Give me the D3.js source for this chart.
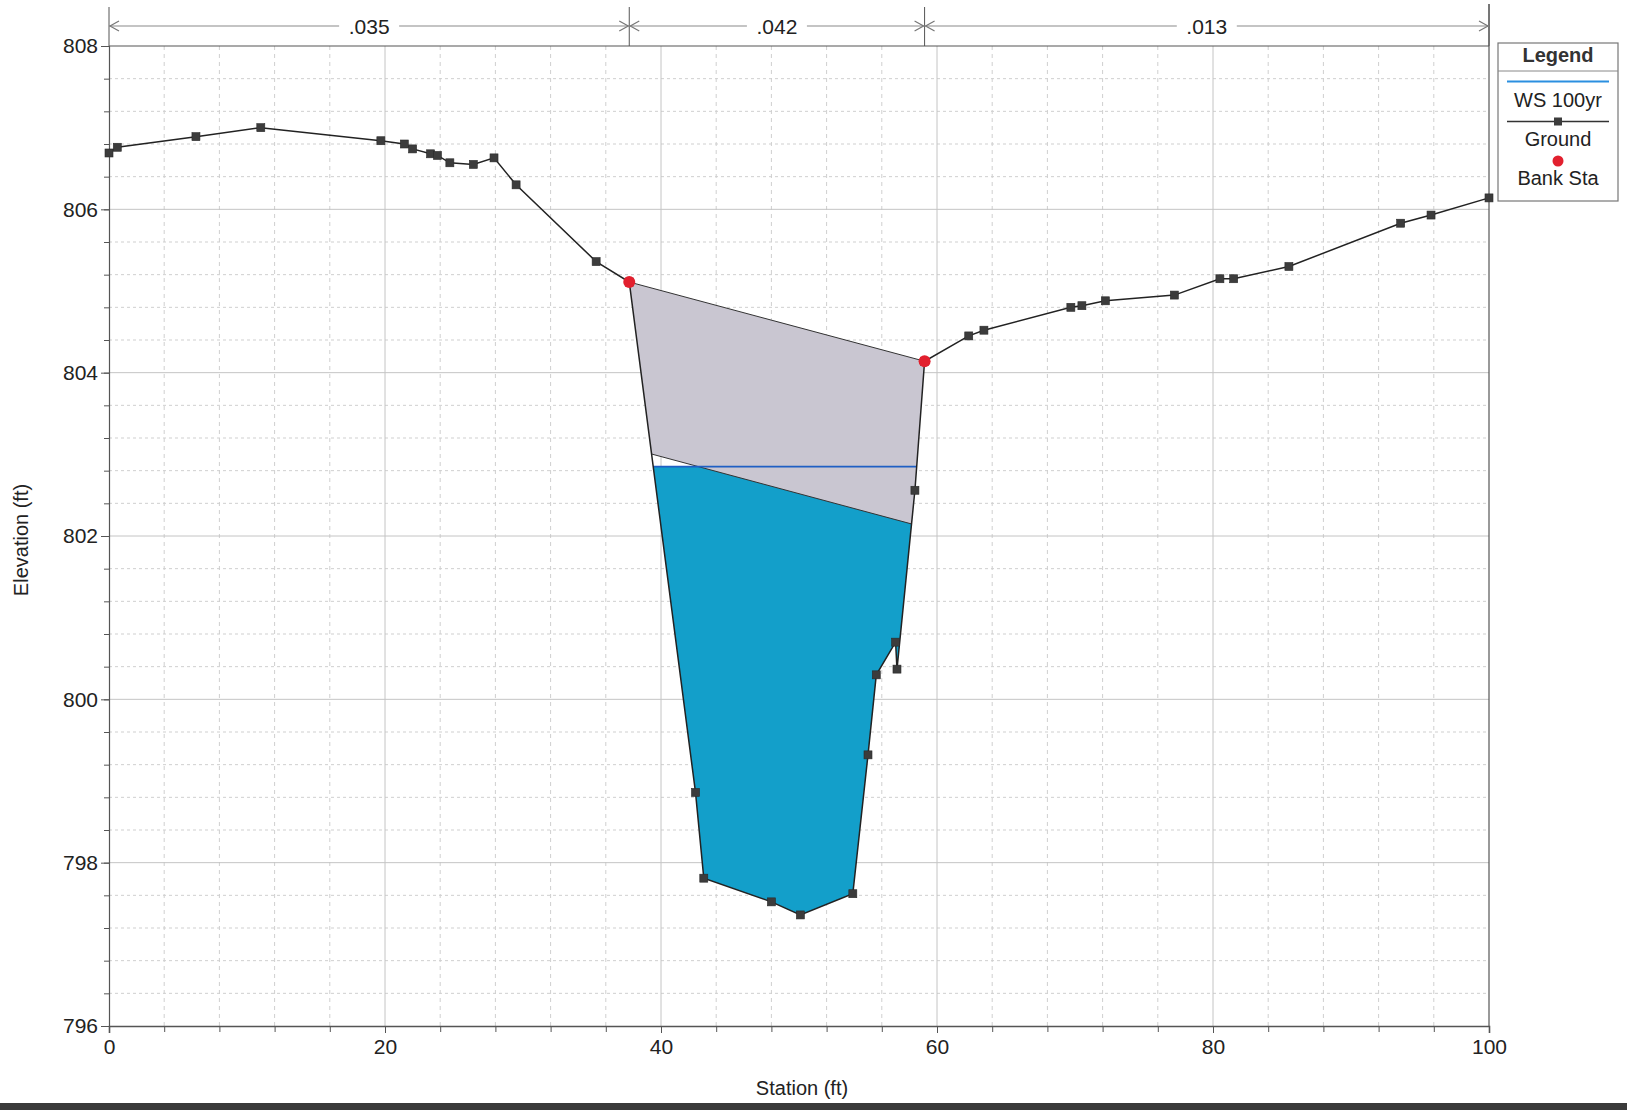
<!DOCTYPE html>
<html>
<head>
<meta charset="utf-8">
<script src="https://cdn.jsdelivr.net/npm/d3@7"></script>
<style>
  html, body { margin: 0; padding: 0; background: #fff; }
  svg { display: block; font-family: "Liberation Sans", Arial, sans-serif; }
</style>
</head>
<body>
<svg id="chart" width="1627" height="1110"></svg>
<script>
// Cross-section ground survey (station ft, elevation ft)
const stations = [0, 0.6, 6.3, 11.0, 19.7, 21.4, 22.0, 23.3, 23.8, 24.7, 26.4, 27.9, 29.5, 35.3,
  37.7, 42.5, 43.1, 48.0, 50.1, 53.9, 55.0, 55.6, 57.0, 57.1, 58.4, 59.1,
  62.3, 63.4, 69.7, 70.5, 72.2, 77.2, 80.5, 81.5, 85.5, 93.6, 95.8, 100];
const elevations = [806.69, 806.76, 806.89, 807.00, 806.84, 806.80, 806.74, 806.68, 806.66, 806.57, 806.55, 806.63, 806.30, 805.36,
  805.11, 798.86, 797.81, 797.52, 797.36, 797.62, 799.32, 800.30, 800.70, 800.37, 802.56, 804.14,
  804.45, 804.52, 804.80, 804.82, 804.88, 804.95, 805.15, 805.15, 805.30, 805.83, 805.93, 806.14];

// Bank stations
const bankStations = [37.7, 59.1];

// Manning's n regions
const nBreaks = [0, 37.7, 59.1, 100];
const nValues = [".035", ".042", ".013"];

// Water surface, 100-yr profile
const wsElevation = 802.85;

// Deck / lid: high chord and low chord
const lidStations = [37.7, 59.1];
const lidHighChord = [805.11, 804.14];
const lidLowStations = [39.4, 58.1];
const lidLowChord = [803.0, 802.15];

// Axis ticks
const xTicks = [0, 20, 40, 60, 80, 100];
const yTicks = [796, 798, 800, 802, 804, 806, 808];

const legendItems = ["WS 100yr", "Ground", "Bank Sta"];

const svg = d3.select("#chart");
const x = d3.scaleLinear().domain([0, 100]).range([109, 1489]);
const y = d3.scaleLinear().domain([796, 808]).range([1026, 46]);

const ground = stations.map((s, i) => [s, elevations[i]]);

const defs = svg.append("defs");
// region above the ground line
const aboveGround = ground.concat([[100, 808], [0, 808]]);
defs.append("clipPath").attr("id", "above-ground")
  .append("path")
  .attr("d", d3.line().x(d => x(d[0])).y(d => y(d[1]))(aboveGround) + "Z");

// ---- grid ----
const grid = svg.append("g");
const xMinor = d3.range(0, 100.001, 4);
const yMinor = d3.range(796, 808.001, 0.4);
grid.selectAll(".vminor").data(xMinor.filter(v => Math.abs(v % 20) > 1e-6))
  .join("line")
  .attr("x1", d => x(d)).attr("x2", d => x(d))
  .attr("y1", y(808)).attr("y2", y(796))
  .attr("stroke", "#cfcfcf").attr("stroke-width", 1).attr("stroke-dasharray", "4,4");
grid.selectAll(".hminor").data(yMinor.filter(v => Math.abs(((v - 796) / 2) - Math.round((v - 796) / 2)) > 1e-6))
  .join("line")
  .attr("x1", x(0)).attr("x2", x(100))
  .attr("y1", d => y(d)).attr("y2", d => y(d))
  .attr("stroke", "#cfcfcf").attr("stroke-width", 1).attr("stroke-dasharray", "3,3");
grid.selectAll(".vmajor").data(xTicks.slice(1, -1))
  .join("line")
  .attr("x1", d => x(d)).attr("x2", d => x(d))
  .attr("y1", y(808)).attr("y2", y(796))
  .attr("stroke", "#c4c4c4").attr("stroke-width", 1);
grid.selectAll(".hmajor").data(yTicks.slice(1, -1))
  .join("line")
  .attr("x1", x(0)).attr("x2", x(100))
  .attr("y1", d => y(d)).attr("y2", d => y(d))
  .attr("stroke", "#c4c4c4").attr("stroke-width", 1);

// ---- water ----
const clipped = svg.append("g").attr("clip-path", "url(#above-ground)");
clipped.append("rect")
  .attr("x", x(0)).attr("y", y(wsElevation))
  .attr("width", x(100) - x(0)).attr("height", y(796) - y(wsElevation))
  .attr("fill", "#139fca");

// ---- lid ----
const lowSlope = (lidLowChord[1] - lidLowChord[0]) / (lidLowStations[1] - lidLowStations[0]);
const lowAt = s => lidLowChord[0] + lowSlope * (s - lidLowStations[0]);
const lidPoly = [
  [lidStations[0], lidHighChord[0]],
  [lidStations[1], lidHighChord[1]],
  [lidStations[1], lowAt(lidStations[1])],
  [lidStations[0], lowAt(lidStations[0])]
];
clipped.append("path")
  .attr("d", d3.line().x(d => x(d[0])).y(d => y(d[1]))(lidPoly) + "Z")
  .attr("fill", "#c9c6d1");
clipped.append("line")
  .attr("x1", x(lidStations[0])).attr("x2", x(lidStations[1]))
  .attr("y1", y(lowAt(lidStations[0]))).attr("y2", y(lowAt(lidStations[1])))
  .attr("stroke", "#333").attr("stroke-width", 1);
svg.append("line")
  .attr("x1", x(lidStations[0])).attr("x2", x(lidStations[1]))
  .attr("y1", y(lidHighChord[0])).attr("y2", y(lidHighChord[1]))
  .attr("stroke", "#333").attr("stroke-width", 1);

// ---- water surface line ----
clipped.append("line")
  .attr("x1", x(0)).attr("x2", x(100))
  .attr("y1", y(wsElevation)).attr("y2", y(wsElevation))
  .attr("stroke", "#1f5fc4").attr("stroke-width", 1.6);

// ---- axes frame ----
const frame = svg.append("g").attr("stroke", "#555").attr("stroke-width", 1.2);
frame.append("line").attr("x1", x(0)).attr("x2", x(100)).attr("y1", y(808)).attr("y2", y(808));
frame.append("line").attr("x1", x(100)).attr("x2", x(100)).attr("y1", 4).attr("y2", y(796));

const yAxisMinor = d3.axisLeft(y).tickValues(yMinor).tickSize(5).tickFormat("");
svg.append("g").attr("transform", `translate(${x(0)},0)`).call(yAxisMinor)
  .call(g => g.select(".domain").remove())
  .selectAll("line").attr("stroke", "#555");
const yAxis = d3.axisLeft(y).tickValues(yTicks).tickSize(8).tickPadding(3).tickFormat(d3.format("d"));
svg.append("g").attr("transform", `translate(${x(0)},0)`).call(yAxis)
  .call(g => g.select(".domain").attr("stroke", "#555").attr("stroke-width", 1.2))
  .call(g => g.selectAll("line").attr("stroke", "#555"))
  .call(g => g.selectAll("text").attr("font-size", 21).attr("fill", "#222")
    .attr("font-family", "'Liberation Sans', Arial, sans-serif"));

const xAxisMinor = d3.axisBottom(x).tickValues(xMinor).tickSize(6).tickFormat("");
svg.append("g").attr("transform", `translate(0,${y(796)})`).call(xAxisMinor)
  .call(g => g.select(".domain").remove())
  .selectAll("line").attr("stroke", "#555");
const xAxis = d3.axisBottom(x).tickValues(xTicks).tickSize(7).tickPadding(6).tickFormat(d3.format("d"));
svg.append("g").attr("transform", `translate(0,${y(796)})`).call(xAxis)
  .call(g => g.select(".domain").attr("stroke", "#555").attr("stroke-width", 1.6))
  .call(g => g.selectAll("line").attr("stroke", "#555"))
  .call(g => g.selectAll("text").attr("font-size", 21).attr("fill", "#222")
    .attr("font-family", "'Liberation Sans', Arial, sans-serif"));

// ---- ground line and points ----
svg.append("path")
  .datum(ground)
  .attr("d", d3.line().x(d => x(d[0])).y(d => y(d[1])))
  .attr("fill", "none").attr("stroke", "#222").attr("stroke-width", 1.5);
svg.selectAll(".gpt").data(ground).join("rect")
  .attr("x", d => x(d[0]) - 4).attr("y", d => y(d[1]) - 4)
  .attr("width", 8).attr("height", 8)
  .attr("fill", "#3c3c3c").attr("stroke", "#2a2a2a").attr("stroke-width", 0.6);

// ---- bank stations ----
svg.selectAll(".bank").data(bankStations).join("circle")
  .attr("cx", d => x(d))
  .attr("cy", d => y(elevations[stations.indexOf(d)]))
  .attr("r", 6)
  .attr("fill", "#e2202e");

// ---- Manning's n brackets ----
const bracketY = 26;
const nGroup = svg.append("g");
nGroup.selectAll(".div").data(nBreaks).join("line")
  .attr("x1", d => x(d)).attr("x2", d => x(d))
  .attr("y1", (d, i) => i === nBreaks.length - 1 ? 4 : 7).attr("y2", y(808))
  .attr("stroke", "#555").attr("stroke-width", 1);
nValues.forEach((label, i) => {
  const a = x(nBreaks[i]), b = x(nBreaks[i + 1]);
  const mid = (a + b) / 2;
  const gap = 30;
  nGroup.append("line").attr("x1", a).attr("x2", mid - gap).attr("y1", bracketY).attr("y2", bracketY)
    .attr("stroke", "#8a8a8a").attr("stroke-width", 1.2);
  nGroup.append("line").attr("x1", mid + gap).attr("x2", b).attr("y1", bracketY).attr("y2", bracketY)
    .attr("stroke", "#8a8a8a").attr("stroke-width", 1.2);
  nGroup.append("path")
    .attr("d", `M${a + 10},${bracketY - 5} L${a + 1},${bracketY} L${a + 10},${bracketY + 5}`)
    .attr("fill", "none").attr("stroke", "#777").attr("stroke-width", 1.2);
  nGroup.append("path")
    .attr("d", `M${b - 10},${bracketY - 5} L${b - 1},${bracketY} L${b - 10},${bracketY + 5}`)
    .attr("fill", "none").attr("stroke", "#777").attr("stroke-width", 1.2);
  nGroup.append("text")
    .attr("x", mid).attr("y", bracketY).attr("dy", "0.36em")
    .attr("text-anchor", "middle").attr("font-size", 21).attr("fill", "#222")
    .text(label);
});

// ---- axis titles ----
svg.append("text")
  .attr("x", 802).attr("y", 1088).attr("dy", "0.36em")
  .attr("text-anchor", "middle").attr("font-size", 20).attr("fill", "#222")
  .text("Station (ft)");
svg.append("text")
  .attr("transform", "translate(21,540) rotate(-90)")
  .attr("dy", "0.36em")
  .attr("text-anchor", "middle").attr("font-size", 20).attr("fill", "#222")
  .text("Elevation (ft)");

// ---- legend ----
const lg = svg.append("g");
const lx = 1498, ly = 43, lw = 120, lh = 158;
lg.append("rect").attr("x", lx).attr("y", ly).attr("width", lw).attr("height", lh)
  .attr("fill", "#fff").attr("stroke", "#777").attr("stroke-width", 1.2);
lg.append("line").attr("x1", lx).attr("x2", lx + lw).attr("y1", 71).attr("y2", 71)
  .attr("stroke", "#888").attr("stroke-width", 1);
lg.append("text").attr("x", lx + lw / 2).attr("y", 55).attr("dy", "0.36em")
  .attr("text-anchor", "middle").attr("font-size", 20).attr("font-weight", "bold").attr("fill", "#333")
  .text("Legend");
const cx = lx + lw / 2;
lg.append("line").attr("x1", lx + 9).attr("x2", lx + lw - 9).attr("y1", 81.5).attr("y2", 81.5)
  .attr("stroke", "#2b8fe0").attr("stroke-width", 2);
lg.append("line").attr("x1", lx + 9).attr("x2", lx + lw - 9).attr("y1", 121.5).attr("y2", 121.5)
  .attr("stroke", "#333").attr("stroke-width", 1.5);
lg.append("rect").attr("x", cx - 4).attr("y", 117.5).attr("width", 8).attr("height", 8)
  .attr("fill", "#3c3c3c");
lg.append("circle").attr("cx", cx).attr("cy", 161).attr("r", 5.5).attr("fill", "#e2202e");
[100, 139, 178].forEach((yy, i) => {
  lg.append("text").attr("x", cx).attr("y", yy).attr("dy", "0.36em")
    .attr("text-anchor", "middle").attr("font-size", 20).attr("fill", "#222")
    .text(legendItems[i]);
});

// ---- page edge ----
svg.append("rect").attr("x", 0).attr("y", 1103).attr("width", 1627).attr("height", 7)
  .attr("fill", "#3a3a3a");
</script>
</body>
</html>
